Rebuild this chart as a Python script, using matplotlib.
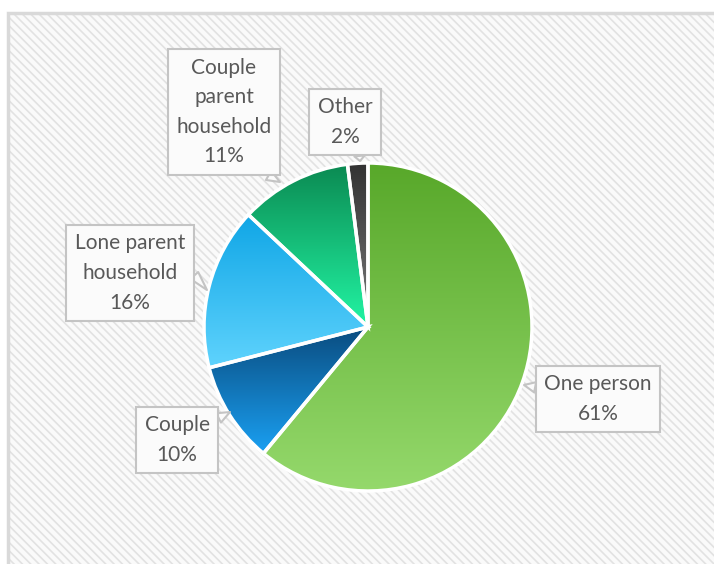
import numpy as np
import matplotlib
matplotlib.use('Agg')
import matplotlib.pyplot as plt
from matplotlib.patches import Rectangle
from matplotlib.colors import LinearSegmentedColormap

# data
categories = ['One person', 'Couple', 'Lone parent household',
              'Couple parent household', 'Other']
shares = [61, 10, 16, 11, 2]
label_text = ['One person', 'Couple', 'Lone parent\nhousehold',
              'Couple\nparent\nhousehold', 'Other']

# gradient colours (top, bottom) per slice
top_colors = ['#58a82a', '#0a4b7e', '#10a6e6', '#0b8a52', '#333333']
bottom_colors = ['#95d96c', '#1aa0f2', '#5fd3fd', '#22f5a4', '#7a7a7a']

# label box centres and pointer tips (pixels, y from top)
box_pos = [(598, 399), (177, 440), (130, 273), (224, 112), (345, 122)]
tip_pos = [(524, 385), (230, 412), (207, 290), (280, 182), (360, 161)]
rel_pos = [(0, 0.7), (1, 0.85), (1, 0.6), (0.8, 0), (0.75, 0)]

W, H = 714, 564
plt.rcParams['font.family'] = ['Lato', 'DejaVu Sans']
plt.rcParams['hatch.linewidth'] = 1.2
plt.rcParams['hatch.color'] = '#e2e2e2'

fig = plt.figure(figsize=(W / 100, H / 100), dpi=100)
ax = fig.add_axes([0, 0, 1, 1])

# striped chart area background
ax.add_patch(Rectangle((8, -20), W + 20, H - 13 + 20, facecolor='#fafafa',
                       edgecolor='#e2e2e2', hatch='\\\\\\\\', linewidth=0,
                       zorder=0))
ax.add_patch(Rectangle((8, -20), W + 20, H - 13 + 20, facecolor='none',
                       edgecolor='#d9d9d9', linewidth=2.5, zorder=1))

cx, cy, r = 368, H - 327, 164
wedges, _ = ax.pie(shares, center=(cx, cy), radius=r, startangle=90,
                   counterclock=False, frame=True,
                   wedgeprops=dict(facecolor='none', edgecolor='white',
                                   linewidth=2.5, zorder=3))
ax.set_xlim(0, W)
ax.set_ylim(0, H)
ax.set_aspect('equal')
ax.axis('off')

for w, c0, c1 in zip(wedges, top_colors, bottom_colors):
    verts = w.get_path().vertices
    x0, x1 = verts[:, 0].min(), verts[:, 0].max()
    y0, y1 = verts[:, 1].min(), verts[:, 1].max()
    cmap = LinearSegmentedColormap.from_list('g', [c1, c0])
    grad = np.linspace(0, 1, 256).reshape(-1, 1)
    im = ax.imshow(grad, cmap=cmap, extent=(x0, x1, y0, y1), origin='lower',
                   aspect='auto', zorder=2, interpolation='bilinear')
    im.set_clip_path(w)

for txt, s, (bx, by), (tx, ty), rp in zip(label_text, shares, box_pos,
                                          tip_pos, rel_pos):
    ax.annotate(f'{txt}\n{s}%', xy=(tx, H - ty), xytext=(bx, H - by),
                ha='center', va='center', fontsize=15, color='#595959',
                linespacing=1.6, zorder=5,
                bbox=dict(boxstyle='square,pad=0.4', facecolor='#fbfbfb',
                          edgecolor='#c4c4c4', linewidth=1.5),
                arrowprops=dict(arrowstyle='wedge,tail_width=0.5',
                                facecolor='#fbfbfb', edgecolor='#c4c4c4',
                                linewidth=1.5, relpos=rp,
                                shrinkA=0, shrinkB=0))

fig.savefig('out.png', dpi=100)
